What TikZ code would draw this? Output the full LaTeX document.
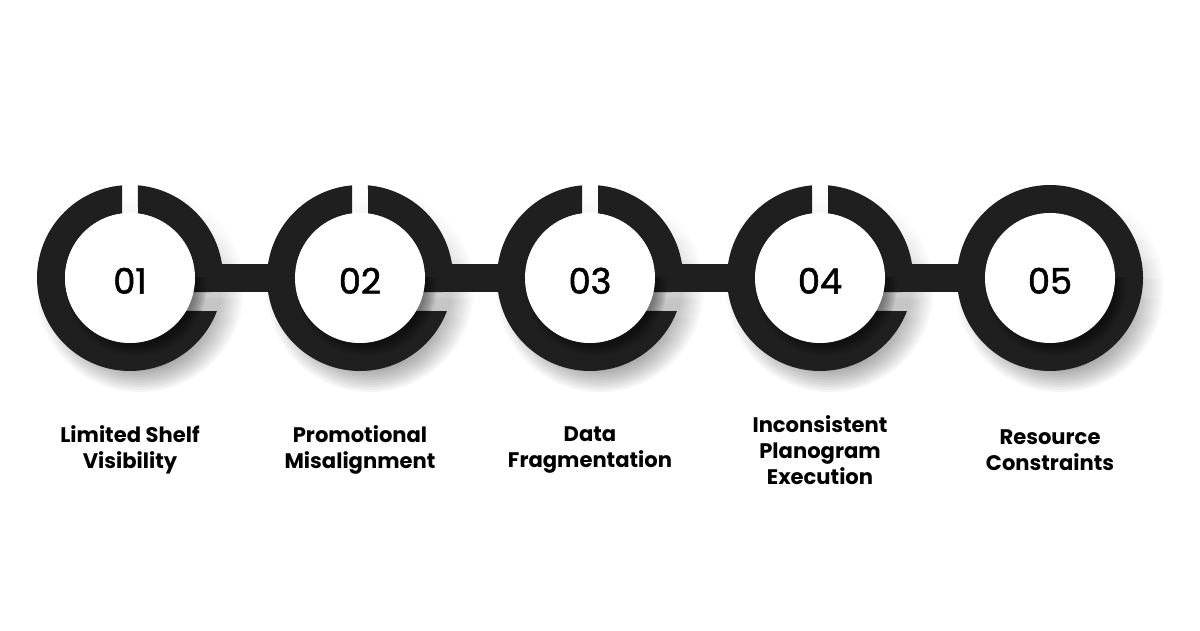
\documentclass[tikz,border=0pt]{standalone}
\usepackage{fontspec}
\setmainfont{Poppins}
\newfontfamily\numfont{Poppins}[FakeBold=1.6]
\usepackage{xcolor}
\usetikzlibrary{calc,fadings}

\definecolor{ringdark}{HTML}{1F1F1F}
\tikzfading[name=shadowfade, top color=transparent!100,
            middle color=transparent!85, bottom color=transparent!0]

\begin{document}
\begin{tikzpicture}[
    x=0.025cm, y=0.025cm,
    bar/.style={draw=ringdark, line width=0.7cm},
    num/.style={font=\numfont\fontsize{25}{28}\selectfont, yshift=-2},
    lbl/.style={font=\fontsize{15}{18.5}\selectfont\bfseries, align=center},
    ringshadow/.pic={
      \foreach \k in {0,...,9}
        \fill[black, opacity=0.04, path fading=shadowfade, fit fading=true]
          (10,-10) circle ({104-\k*2.4});
    },
    gapring/.pic={
      \fill[ringdark] (85.07:93) arc[start angle=85.07, end angle=-8.66, radius=93]
        -- (-12.45:65) arc[start angle=-12.45, end angle=82.93, radius=65] -- cycle;
      \fill[ringdark] (94.93:93) arc[start angle=94.93, end angle=339.2, radius=93]
        -- (329.5:65) arc[start angle=329.5, end angle=97.07, radius=65] -- cycle;
    },
    fullring/.pic={
      \fill[ringdark] (0,0) circle (93);
    },
    hole/.pic={
      \begin{scope}
        \clip (-100,0) rectangle (120,-120);
        \foreach \k in {0,...,7}
          \fill[black, opacity=0.06] (6,-7) circle ({71-\k*1.6});
      \end{scope}
      \fill[white] (0,0) circle (65);
    }
  ]

  \fill[white] (0,0) rectangle (1200,630);
  \useasboundingbox (0,0) rectangle (1200,630);

  %% ── ring centres ──────────────────────────────────────────────────
  \coordinate (c1) at (130,352);
  \coordinate (c2) at (360,352);
  \coordinate (c3) at (590,352);
  \coordinate (c4) at (820,352);
  \coordinate (c5) at (1050,352);

  %% ── soft shadows ──────────────────────────────────────────────────
  \pic at (c1) {ringshadow};
  \pic at (c2) {ringshadow};
  \pic at (c3) {ringshadow};
  \pic at (c4) {ringshadow};
  \pic at (c5) {ringshadow};

  %% ── connecting bars ───────────────────────────────────────────────
  \draw[bar] (c1) -- (c2);
  \draw[bar] (c2) -- (c3);
  \draw[bar] (c3) -- (c4);
  \draw[bar] (c4) -- (c5);

  %% ── rings ─────────────────────────────────────────────────────────
  \pic at (c1) {gapring};
  \pic at (c2) {gapring};
  \pic at (c3) {gapring};
  \pic at (c4) {gapring};
  \pic at (c5) {fullring};
  \pic at (c1) {hole};
  \pic at (c2) {hole};
  \pic at (c3) {hole};
  \pic at (c4) {hole};
  \pic at (c5) {hole};

  %% ── numbers ───────────────────────────────────────────────────────
  \node[num] (n1) at (c1) {01};
  \node[num] (n2) at (c2) {02};
  \node[num] (n3) at (c3) {03};
  \node[num] (n4) at (c4) {04};
  \node[num] (n5) at (c5) {05};

  %% ── labels ────────────────────────────────────────────────────────
  \node[lbl] (l1) at (130,180)  {Limited Shelf\\Visibility};
  \node[lbl] (l2) at (360,180)  {Promotional\\Misalignment};
  \node[lbl] (l3) at (590,180)  {Data\\Fragmentation};
  \node[lbl] (l4) at (820,180)  {Inconsistent\\Planogram\\Execution};
  \node[lbl] (l5) at (1050,180) {Resource\\Constraints};

\end{tikzpicture}
\end{document}
